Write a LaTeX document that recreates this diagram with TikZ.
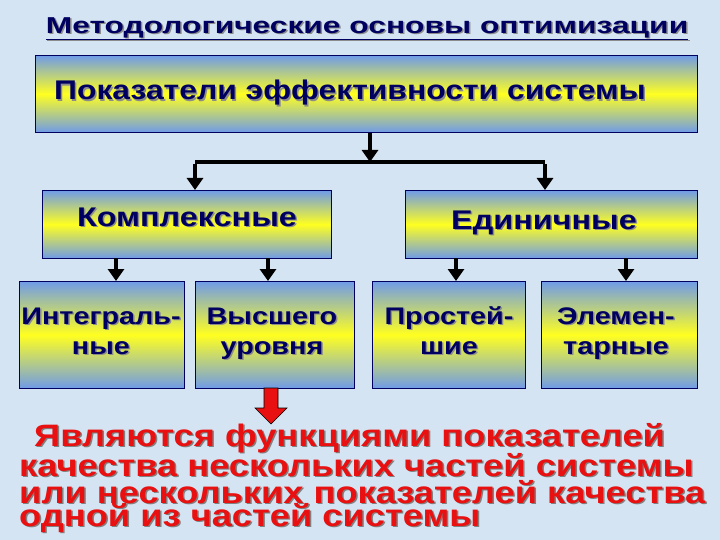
\documentclass[tikz,border=0pt]{standalone}
\usepackage{fontspec}
\setmainfont{Liberation Sans}
\usetikzlibrary{arrows.meta}
\definecolor{navy}{HTML}{000060}
\definecolor{bxblue}{HTML}{6F9BE8}
\definecolor{bxyel}{HTML}{FFFF20}
\definecolor{bg}{HTML}{D4E4F2}
\definecolor{red1}{HTML}{E81010}
\tikzset{
 box/.style={draw=navy,line width=0.8pt,top color=bxblue,bottom color=bxblue,middle color=bxyel,anchor=north west,inner sep=0pt},
 arr/.style={line width=4pt,-{Triangle[width=16pt,length=12pt]}},
}
\newcommand{\shtext}[6]{% x, y, font, color, xscale, text
 \node[#3,text=black!45,inner sep=0pt] at (#1+1.5,#2+1.5) {\scalebox{#5}[1]{\begin{tabular}{@{}c@{}}#6\end{tabular}}};
 \node[#3,text=#4,inner sep=0pt] at (#1,#2) {\scalebox{#5}[1]{\begin{tabular}{@{}c@{}}#6\end{tabular}}};}
\begin{document}
\begin{tikzpicture}[x=1pt,y=-1pt]
\fill[bg] (0,0) rectangle (720,540);
\useasboundingbox (0,0) rectangle (720,540);
% title
\shtext{367}{28}{font=\bfseries\fontsize{23}{26}\selectfont}{navy}{1.38}{\underline{Методологические основы оптимизации}}
% boxes
\node (main) [box,minimum width=662pt,minimum height=77pt] at (35,55) {};
\node (kom) [box,minimum width=289pt,minimum height=68pt] at (42,190) {};
\node (edi) [box,minimum width=292pt,minimum height=68pt] at (405,190) {};
\node (int) [box,minimum width=165pt,minimum height=107pt] at (19,281) {};
\node (vys) [box,minimum width=159pt,minimum height=107pt] at (195,281) {};
\node (pro) [box,minimum width=153pt,minimum height=107pt] at (372,281) {};
\node (ele) [box,minimum width=156pt,minimum height=107pt] at (541,281) {};
% texts
\shtext{350}{94}{font=\bfseries\fontsize{27}{30}\selectfont}{navy}{1.18}{Показатели эффективности системы}
\shtext{187}{220}{font=\bfseries\fontsize{27}{30}\selectfont}{navy}{1.2}{Комплексные}
\shtext{544}{223}{font=\bfseries\fontsize{27}{30}\selectfont}{navy}{1.2}{Единичные}
\shtext{101}{333}{font=\bfseries\fontsize{24}{30}\selectfont}{navy}{1.2}{Интеграль-\\ные}
\shtext{272}{333}{font=\bfseries\fontsize{24}{30}\selectfont}{navy}{1.2}{Высшего\\уровня}
\shtext{449}{333}{font=\bfseries\fontsize{24}{30}\selectfont}{navy}{1.2}{Простей-\\шие}
\shtext{616}{333}{font=\bfseries\fontsize{24}{30}\selectfont}{navy}{1.2}{Элемен-\\тарные}
% connectors
\coordinate (jl) at (195,162);
\coordinate (jr) at (545,162);
\draw[arr] (main.south -| 370,0) -- (370,162);
\draw[line width=4pt] (jl) -- (jr);
\draw[arr] ([yshift=-2pt]jl) -- (kom.north -| jl);
\draw[arr] ([yshift=-2pt]jr) -- (edi.north -| jr);
\draw[arr] (116,258) -- (int.north -| 116,0);
\draw[arr] (268,258) -- (vys.north -| 268,0);
\draw[arr] (456,258) -- (pro.north -| 456,0);
\draw[arr] (626,258) -- (ele.north -| 626,0);
\draw[draw=black,fill=red1,line width=0.6pt] (264,388) -- (278,388) -- (278,408) -- (287,408) -- (271,424) -- (255,408) -- (264,408) -- cycle;
% bottom text
\begin{scope}[font=\bfseries\fontsize{31}{27}\selectfont]
\foreach \t/\xx/\yy in {{Являются функциями показателей}/34/438,{качества нескольких частей системы}/19/465,{или нескольких показателей качества}/19/492,{одной из частей системы}/19/518}{
 \node[anchor=west,text=black!50,inner sep=0pt] at (\xx+1.5,\yy+1.5) {\scalebox{1.17}[1]{\t}};
 \node[anchor=west,text=red1,inner sep=0pt] at (\xx,\yy) {\scalebox{1.17}[1]{\t}};
}
\end{scope}
\end{tikzpicture}
\end{document}
